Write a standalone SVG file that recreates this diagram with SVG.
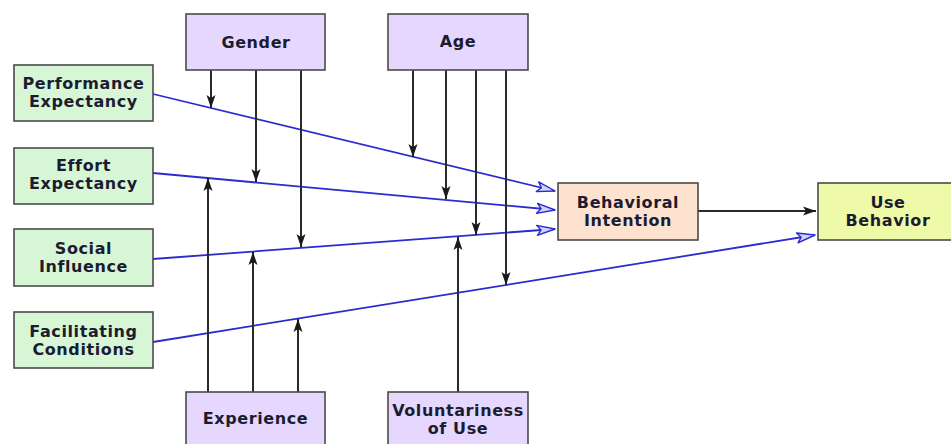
<svg xmlns="http://www.w3.org/2000/svg" width="951" height="444" viewBox="0 0 951 444">
  <defs>
    <style>
      .box { stroke: #4a4a4a; stroke-width: 1.6; }
      .mod { fill: #e6d7ff; }
      .pred { fill: #d6f6d6; }
      .bi { fill: #fde2d0; }
      .ub { fill: #effaa8; }
      .lbl { font-family: "DejaVu Sans", "Liberation Sans", sans-serif; font-weight: bold; font-size: 16px; letter-spacing: 0.6px; fill: #1c1c30; text-anchor: middle; }
      .blue { stroke: #2b2bd0; stroke-width: 1.8; fill: none; }
      .blk { stroke: #2a2a2a; stroke-width: 2; fill: none; }
    </style>
    <marker id="blueHead" viewBox="0 0 20 12" refX="19" refY="6" markerWidth="20" markerHeight="12" markerUnits="userSpaceOnUse" orient="auto">
      <path d="M1,1 L19,6 L1,11 L5,6 Z" fill="#d0d4f7" stroke="#2b2bd0" stroke-width="1.4" stroke-linejoin="round"/>
    </marker>
    <marker id="blackHead" viewBox="0 0 14 10" refX="13" refY="5" markerWidth="14" markerHeight="10" markerUnits="userSpaceOnUse" orient="auto">
      <path d="M0,0.5 L13,5 L0,9.5 L3,5 Z" fill="#1a1a1a"/>
    </marker>
  </defs>

  <!-- connectors -->
  <g id="connectors">
    <!-- predictor paths -->
    <line class="blue" x1="153" y1="94" x2="555" y2="191" marker-end="url(#blueHead)"/>
    <line class="blue" x1="153" y1="173" x2="555" y2="210" marker-end="url(#blueHead)"/>
    <line class="blue" x1="153" y1="259" x2="555" y2="229" marker-end="url(#blueHead)"/>
    <line class="blue" x1="153" y1="342" x2="815" y2="235" marker-end="url(#blueHead)"/>
    <line class="blk" x1="698" y1="211" x2="816" y2="211" marker-end="url(#blackHead)"/>

    <!-- gender moderation -->
    <line class="blk" x1="211" y1="70" x2="211" y2="108" marker-end="url(#blackHead)"/>
    <line class="blk" x1="256" y1="70" x2="256" y2="182" marker-end="url(#blackHead)"/>
    <line class="blk" x1="301" y1="70" x2="301" y2="247" marker-end="url(#blackHead)"/>

    <!-- age moderation -->
    <line class="blk" x1="413" y1="70" x2="413" y2="157" marker-end="url(#blackHead)"/>
    <line class="blk" x1="446" y1="70" x2="446" y2="199" marker-end="url(#blackHead)"/>
    <line class="blk" x1="476" y1="70" x2="476" y2="235" marker-end="url(#blackHead)"/>
    <line class="blk" x1="506" y1="70" x2="506" y2="285" marker-end="url(#blackHead)"/>

    <!-- experience moderation -->
    <line class="blk" x1="208" y1="392" x2="208" y2="178" marker-end="url(#blackHead)"/>
    <line class="blk" x1="253" y1="392" x2="253" y2="252" marker-end="url(#blackHead)"/>
    <line class="blk" x1="298" y1="392" x2="298" y2="319" marker-end="url(#blackHead)"/>

    <!-- voluntariness moderation -->
    <line class="blk" x1="458" y1="392" x2="458" y2="237" marker-end="url(#blackHead)"/>
  </g>

  <!-- nodes -->
  <g id="gender">
    <rect class="box mod" x="186" y="14" width="139" height="56"/>
    <text class="lbl" x="256" y="48">Gender</text>
  </g>
  <g id="age">
    <rect class="box mod" x="388" y="14" width="140" height="56"/>
    <text class="lbl" x="458" y="47">Age</text>
  </g>
  <g id="performance-expectancy">
    <rect class="box pred" x="14" y="65" width="139" height="56"/>
    <text class="lbl" x="83.5" y="89">Performance</text>
    <text class="lbl" x="83.5" y="107">Expectancy</text>
  </g>
  <g id="effort-expectancy">
    <rect class="box pred" x="14" y="148" width="139" height="56"/>
    <text class="lbl" x="83.5" y="171">Effort</text>
    <text class="lbl" x="83.5" y="189">Expectancy</text>
  </g>
  <g id="social-influence">
    <rect class="box pred" x="14" y="229" width="139" height="57"/>
    <text class="lbl" x="83.5" y="254">Social</text>
    <text class="lbl" x="83.5" y="272">Influence</text>
  </g>
  <g id="facilitating-conditions">
    <rect class="box pred" x="14" y="312" width="139" height="56"/>
    <text class="lbl" x="83.5" y="337">Facilitating</text>
    <text class="lbl" x="83.5" y="355">Conditions</text>
  </g>
  <g id="behavioral-intention">
    <rect class="box bi" x="558" y="183" width="140" height="57"/>
    <text class="lbl" x="628" y="208">Behavioral</text>
    <text class="lbl" x="628" y="226">Intention</text>
  </g>
  <g id="use-behavior">
    <rect class="box ub" x="818" y="183" width="140" height="57"/>
    <text class="lbl" x="888" y="208">Use</text>
    <text class="lbl" x="888" y="226">Behavior</text>
  </g>
  <g id="experience">
    <rect class="box mod" x="186" y="392" width="139" height="60"/>
    <text class="lbl" x="255.5" y="424">Experience</text>
  </g>
  <g id="voluntariness">
    <rect class="box mod" x="388" y="392" width="140" height="60"/>
    <text class="lbl" x="458" y="416">Voluntariness</text>
    <text class="lbl" x="458" y="434">of Use</text>
  </g>
</svg>
